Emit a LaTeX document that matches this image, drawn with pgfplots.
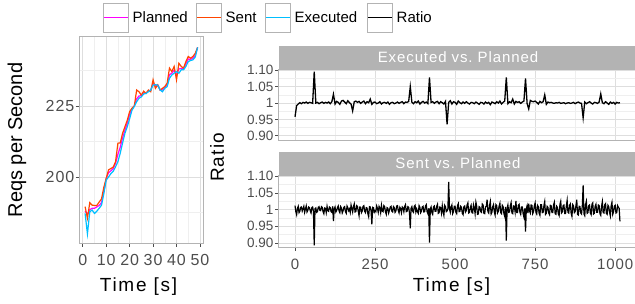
\documentclass[border=0pt]{standalone}
\usepackage{pgfplots}
\pgfplotsset{compat=1.18}
\usepackage{fontspec}
\setmainfont{Liberation Sans}
\newfontfamily\wide[LetterSpace=9]{Liberation Sans}
\newfontfamily\wideb[LetterSpace=6]{Liberation Sans}
\definecolor{cPlan}{HTML}{FF00FF}
\definecolor{cSent}{HTML}{FF4500}
\definecolor{cExec}{HTML}{00BFFF}
\definecolor{tickgray}{HTML}{4D4D4D}
\definecolor{bordergray}{HTML}{B3B3B3}
\definecolor{gridmaj}{HTML}{DEDEDE}
\definecolor{gridmin}{HTML}{EFEFEF}
\newcommand{\fs}[1]{\fontsize{#1bp}{#1bp}\selectfont}
\pgfplotsset{
  gg/.style={
    scale only axis, anchor=south west,
    axis line style={bordergray, line width=0.8bp},
    grid=both,
    major grid style={gridmaj, line width=0.7bp},
    minor grid style={gridmin, line width=0.5bp},
    tick pos=left, tick align=outside,
    major tick length=3.5bp, minor tick length=0pt,
    major tick style={tickgray, line width=0.7bp},
    ticklabel style={text=tickgray},
    /pgf/number format/assume math mode=true,
    clip=true,
  }
}
\begin{document}
\begin{tikzpicture}
\path[use as bounding box] (0bp,0bp) rectangle (635bp,304bp);
% ---------------- left panel
\begin{axis}[gg, at={(79bp,61bp)}, width=124bp, height=207bp,
  xmin=-1.6, xmax=51.3, ymin=176.8, ymax=249.6,
  xtick={0,10,20,30,40,50}, xticklabels={0,10,20,30,40,50},
  minor xtick={5,15,25,35,45},
  ytick={200,225}, yticklabels={200,225},
  minor ytick={187.5,212.5,237.5},
  ticklabel style={font=\wideb\fs{16}},
  xticklabel style={inner sep=0bp, yshift=-8bp},
  yticklabel style={inner sep=1bp},
]
\addplot[color=cPlan, line width=1.2bp] coordinates {
(1,188) (2,187) (3,188.5) (4,189) (5,189) (6,189.5) (7,190) (8,191) (9,195) (10,199.5)
(11,201.5) (12,202.2) (13,203) (14,204.8) (15,208) (16,210.5) (17,213.8) (18,216.5) (19,219) (20,222)
(21,224) (22,225) (23,227.5) (24,228.5) (25,228.6) (26,229.6) (27,229.5) (28,230.3) (29,230.5) (30,233)
(31,232) (32,232.4) (33,230.6) (34,230.6) (35,231.5) (36,232.4) (37,236) (38,236.5) (39,237.6) (40,236)
(41,238) (42,238.2) (43,238) (44,239.8) (45,241.5) (46,241.4) (47,241.8) (48,242.8) (49,245.6)};
\addplot[color=cSent, line width=1.2bp] coordinates {
(1,189.6) (2,185.5) (3,191) (4,190.1) (5,190) (6,190) (7,191.2) (8,192.3) (9,196.4) (10,199.5)
(11,202.5) (12,203) (13,203.5) (14,205.4) (15,211.9) (16,212) (17,215.4) (18,217.7) (19,220) (20,223)
(21,224.2) (22,225) (23,230.6) (24,230) (25,228.8) (26,230.2) (27,229.4) (28,230.6) (29,230) (30,234.2)
(31,231.2) (32,232.4) (33,230.6) (34,231.2) (35,231.8) (36,233) (37,238.3) (38,237.1) (39,238.9) (40,234.2)
(41,240) (42,238.9) (43,238.3) (44,240.6) (45,242.4) (46,241.8) (47,242.4) (48,243.5) (49,245.6)};
\addplot[color=cExec, line width=1.2bp] coordinates {
(1,187.2) (2,180) (3,187.8) (4,188.4) (5,187.2) (6,188) (7,189) (8,190.1) (9,194.2) (10,198.9)
(11,200) (12,201.2) (13,202) (14,203.6) (15,205.4) (16,208.4) (17,212) (18,215.4) (19,217.7) (20,220.5)
(21,223.5) (22,224.8) (23,226.5) (24,227.7) (25,228.2) (26,229.2) (27,229.4) (28,230) (29,230.6) (30,232.3)
(31,232.5) (32,232.3) (33,230.6) (34,230) (35,231.2) (36,231.8) (37,234.7) (38,235.9) (39,236.5) (40,237.1)
(41,236.5) (42,237.7) (43,237.7) (44,238.9) (45,240.6) (46,241) (47,241.2) (48,242.2) (49,245.6)};
\end{axis}
% ---------------- right top panel
\begin{axis}[gg, at={(278.7bp,164bp)}, width=356.3bp, height=71bp,
  xmin=-51, xmax=1062, ymin=0.887, ymax=1.104,
  xtick={0,250,500,750,1000}, xticklabels={},
  minor xtick={125,375,625,875},
  ytick={0.90,0.95,1,1.05,1.10}, yticklabels={0.90,0.95,1,1.05,1.10},
  minor ytick={0.925,0.975,1.025,1.075},
  xtick style={draw=none},
  ticklabel style={font=\fs{13.5}},
  yticklabel style={inner sep=1.5bp},
]
\addplot[black, line width=1.3bp] coordinates {
(0,0.958) (5,0.992) (10,0.997) (15,1.001) (20,0.998) (25,1.002) (30,1.000) (35,1.003) (40,0.999) (45,1.002)
(50,1.001) (55,0.999) (60,1.096) (65,1.000) (70,1.002) (75,0.998) (80,1.001) (85,1.003) (90,0.999) (95,1.002)
(100,1.000) (105,1.003) (110,0.998) (115,1.004) (120,1.027) (125,0.997) (130,1.005) (135,1.002) (140,0.996) (145,1.006)
(150,1.008) (155,1.003) (160,0.998) (165,1.007) (170,1.001) (175,0.997) (180,0.976) (185,1.004) (190,1.006) (195,1.002)
(200,1.005) (205,0.999) (210,1.003) (215,1.006) (220,0.998) (225,1.004) (230,1.001) (235,1.012) (240,0.996) (245,1.002)
(250,1.003) (255,0.998) (260,1.000) (265,1.004) (270,0.997) (275,1.001) (280,1.002) (285,0.999) (290,1.003) (295,0.996)
(300,1.001) (305,1.002) (310,0.998) (315,1.000) (320,1.003) (325,0.999) (330,1.002) (335,1.004) (340,0.998) (345,1.003)
(350,1.002) (355,1.005) (360,1.050) (365,1.003) (370,0.998) (375,1.004) (380,1.001) (385,1.006) (390,0.997) (395,1.002)
(400,1.005) (405,1.000) (410,1.003) (415,0.998) (420,1.078) (425,1.002) (430,1.004) (435,0.999) (440,1.003) (445,1.005)
(450,0.998) (455,1.004) (460,1.001) (465,0.997) (470,1.005) (475,0.935) (480,1.002) (485,1.007) (490,0.997) (495,1.004)
(500,1.002) (505,0.996) (510,1.006) (515,1.001) (520,0.998) (525,1.003) (530,0.999) (535,1.004) (540,1.000) (545,0.997)
(550,1.002) (555,1.001) (560,0.998) (565,1.003) (570,1.000) (575,0.996) (580,1.002) (585,1.001) (590,0.997) (595,1.003)
(600,0.999) (605,1.002) (610,0.995) (615,1.003) (620,1.001) (625,0.998) (630,1.004) (635,1.000) (640,1.006) (645,0.997)
(650,1.002) (655,1.006) (660,1.078) (665,0.998) (670,1.004) (675,1.001) (680,1.012) (685,0.997) (690,1.005) (695,1.002)
(700,1.004) (705,0.999) (710,1.003) (715,1.006) (720,1.075) (725,0.998) (730,0.982) (735,1.008) (740,1.005) (745,1.004)
(750,1.006) (755,1.002) (760,0.997) (765,1.005) (770,1.001) (775,1.004) (780,1.025) (785,0.996) (790,1.003) (795,1.001)
(800,1.002) (805,1.000) (810,0.999) (815,1.001) (820,1.000) (825,1.002) (830,0.999) (835,1.000) (840,1.001) (845,0.998)
(850,1.000) (855,1.001) (860,0.999) (865,1.000) (870,1.002) (875,0.998) (880,1.001) (885,1.003) (890,1.000) (895,0.999)
(900,0.955) (905,1.003) (910,0.998) (915,1.001) (920,1.004) (925,1.000) (930,0.997) (935,1.002) (940,1.001) (945,0.999)
(950,1.003) (955,1.028) (960,1.001) (965,0.998) (970,1.004) (975,1.000) (980,0.996) (985,1.003) (990,0.999) (995,1.002)
(1000,0.997) (1005,1.002) (1010,1.000) (1015,1.001)};
\end{axis}
% ---------------- right bottom panel
\begin{axis}[gg, at={(278.7bp,56.7bp)}, width=356.3bp, height=72.3bp,
  xmin=-51, xmax=1062, ymin=0.887, ymax=1.104,
  xtick={0,250,500,750,1000}, xticklabels={0,250,500,750,1000},
  minor xtick={125,375,625,875},
  ytick={0.90,0.95,1,1.05,1.10}, yticklabels={0.90,0.95,1,1.05,1.10},
  minor ytick={0.925,0.975,1.025,1.075},
  yticklabel style={font=\fs{13.5}, inner sep=1.5bp},
  xticklabel style={font=\wideb\fs{15}, inner sep=0bp, yshift=-8bp},
]
\addplot[black, line width=1.2bp] coordinates {
(0,1.012) (2.5,0.994) (5,0.985) (7.5,1.004) (10,1.010) (12.5,0.991) (15,0.995) (17.5,1.007) (20,1.008) (22.5,0.996) (25,1.003) (27.5,1.010) (30,0.992) (32.5,1.002) (35,1.011) (37.5,0.993) (40,0.998) (42.5,1.008) (45,1.006) (47.5,0.997)
(50,0.990) (52.5,1.006) (55,1.008) (57.5,0.995) (60,0.893) (62.5,1.003) (65,1.005) (67.5,0.992) (70,0.994) (72.5,1.007) (75,1.009) (77.5,0.998) (80,0.997) (82.5,1.009) (85,1.007) (87.5,0.994) (90,0.988) (92.5,1.005) (95,1.004) (97.5,0.991)
(100,1.010) (102.5,0.997) (105,0.995) (107.5,1.008) (110,1.006) (112.5,0.994) (115,0.992) (117.5,1.010) (120,0.966) (122.5,1.002) (125,1.008) (127.5,0.993) (130,0.997) (132.5,1.006) (135,1.011) (137.5,0.996) (140,0.991) (142.5,1.009) (145,1.005) (147.5,0.990)
(150,0.996) (152.5,1.007) (155,1.009) (157.5,0.994) (160,0.989) (162.5,1.011) (165,1.006) (167.5,0.997) (170,1.002) (172.5,0.992) (175,1.014) (177.5,1.004) (180,0.993) (182.5,1.009) (185,1.017) (187.5,0.993) (190,0.994) (192.5,1.012) (195,1.010) (197.5,0.995)
(200,0.982) (202.5,1.008) (205,1.007) (207.5,0.991) (210,0.996) (212.5,1.010) (215,1.012) (217.5,0.995) (220,0.991) (222.5,1.006) (225,1.005) (227.5,0.988) (230,0.979) (232.5,1.009) (235,1.008) (237.5,0.997) (240,0.956) (242.5,1.007) (245,1.006) (247.5,0.992)
(250,0.997) (252.5,0.994) (255,1.011) (257.5,1.004) (260,0.992) (262.5,1.010) (265,1.005) (267.5,0.991) (270,1.013) (272.5,0.996) (275,0.994) (277.5,1.012) (280,1.009) (282.5,0.993) (285,0.986) (287.5,1.006) (290,1.004) (292.5,0.990) (295,0.998) (297.5,1.008)
(300,1.010) (302.5,0.995) (305,0.993) (307.5,1.009) (310,1.006) (312.5,0.992) (315,0.996) (317.5,1.011) (320,1.012) (322.5,0.997) (325,0.990) (327.5,1.007) (330,1.003) (332.5,0.991) (335,1.008) (337.5,1.005) (340,0.994) (342.5,1.010) (345,1.015) (347.5,0.994)
(350,0.995) (352.5,1.009) (355,1.007) (357.5,0.990) (360,0.944) (362.5,1.004) (365,1.009) (367.5,0.995) (370,0.992) (372.5,1.010) (375,1.013) (377.5,0.993) (380,1.002) (382.5,0.994) (385,0.989) (387.5,1.012) (390,1.007) (392.5,0.991) (395,0.996) (397.5,1.008)
(400,1.010) (402.5,0.993) (405,0.994) (407.5,1.011) (410,1.015) (412.5,0.994) (415,0.988) (417.5,1.004) (420,0.901) (422.5,1.002) (425,1.008) (427.5,0.991) (430,0.986) (432.5,1.008) (435,1.011) (437.5,0.995) (440,0.995) (442.5,1.010) (445,1.016) (447.5,0.989)
(450,0.991) (452.5,1.008) (455,1.006) (457.5,0.990) (460,1.012) (462.5,0.993) (465,0.983) (467.5,1.013) (470,1.009) (472.5,0.994) (475,0.996) (477.5,1.003) (480,1.083) (482.5,1.002) (485,0.992) (487.5,1.008) (490,1.014) (492.5,0.988) (495,0.994) (497.5,1.010)
(500,1.010) (502.5,0.992) (505,0.988) (507.5,1.012) (510,1.018) (512.5,0.994) (515,0.995) (517.5,1.010) (520,1.007) (522.5,0.989) (525,0.985) (527.5,1.009) (530,1.011) (532.5,0.993) (535,0.997) (537.5,1.014) (540,1.020) (542.5,0.990) (545,0.992) (547.5,1.006)
(550,1.013) (552.5,0.991) (555,0.990) (557.5,1.015) (560,1.006) (562.5,0.988) (565,1.022) (567.5,1.010) (570,0.986) (572.5,0.987) (575,1.009) (577.5,1.007) (580,0.994) (582.5,0.992) (585,1.017) (587.5,1.014) (590,0.989) (592.5,0.988) (595,1.008) (597.5,1.010)
(600,1.030) (602.5,0.994) (605,0.990) (607.5,1.012) (610,1.024) (612.5,0.987) (615,0.992) (617.5,1.009) (620,1.015) (622.5,0.993) (625,0.984) (627.5,1.015) (630,1.012) (632.5,0.990) (635,0.995) (637.5,1.011) (640,1.019) (642.5,0.991) (645,0.988) (647.5,1.013)
(650,1.009) (652.5,0.988) (655,0.980) (657.5,1.008) (660,0.907) (662.5,1.004) (665,1.014) (667.5,0.992) (670,0.993) (672.5,1.012) (675,1.021) (677.5,0.990) (680,0.988) (682.5,1.011) (685,1.010) (687.5,0.993) (690,1.026) (692.5,0.991) (695,0.991) (697.5,1.013)
(700,1.016) (702.5,0.992) (705,0.986) (707.5,1.008) (710,1.008) (712.5,0.988) (715,0.978) (717.5,1.004) (720,0.934) (722.5,1.003) (725,1.012) (727.5,0.990) (730,1.018) (732.5,0.996) (735,0.990) (737.5,1.014) (740,1.013) (742.5,0.988) (745,0.994) (747.5,1.011)
(750,1.020) (752.5,0.992) (755,0.987) (757.5,1.013) (760,1.009) (762.5,0.989) (765,0.983) (767.5,1.015) (770,1.015) (772.5,0.991) (775,0.992) (777.5,1.012) (780,1.024) (782.5,0.986) (785,0.989) (787.5,1.010) (790,1.007) (792.5,0.990) (795,0.985) (797.5,1.013)
(800,1.012) (802.5,0.991) (805,0.991) (807.5,1.014) (810,1.022) (812.5,0.988) (815,0.986) (817.5,1.010) (820,1.006) (822.5,0.987) (825,0.982) (827.5,1.016) (830,1.025) (832.5,0.990) (835,0.993) (837.5,1.012) (840,1.014) (842.5,0.988) (845,0.988) (847.5,1.011)
(850,1.028) (852.5,0.992) (855,0.990) (857.5,1.013) (860,1.017) (862.5,0.989) (865,0.980) (867.5,1.015) (870,1.011) (872.5,0.991) (875,0.994) (877.5,1.012) (880,1.030) (882.5,0.986) (885,0.984) (887.5,1.010) (890,1.009) (892.5,0.990) (895,0.987) (897.5,1.013)
(900,1.073) (902.5,0.987) (905,0.982) (907.5,1.015) (910,1.025) (912.5,0.989) (915,0.991) (917.5,1.012) (920,1.014) (922.5,0.990) (925,0.985) (927.5,1.016) (930,1.020) (932.5,0.987) (935,0.989) (937.5,1.010) (940,1.016) (942.5,0.992) (945,0.992) (947.5,1.014)
(950,1.012) (952.5,0.988) (955,0.983) (957.5,1.010) (960,1.024) (962.5,0.991) (965,0.990) (967.5,1.015) (970,1.018) (972.5,0.989) (975,0.986) (977.5,1.013) (980,1.009) (982.5,0.992) (985,0.981) (987.5,1.012) (990,1.022) (992.5,0.986) (995,0.994) (997.5,1.010)
(1000,1.013) (1002.5,0.990) (1005,0.991) (1007.5,1.012) (1010,1.007) (1012.5,1.004) (1015,0.965)};
\end{axis}
% ---------------- strips
\fill[bordergray] (278.7bp,235bp) rectangle (635bp,258bp);
\node[text=white, font=\wideb\fs{15}] at (458bp,246.5bp) {Executed vs.\ Planned};
\fill[bordergray] (278.7bp,129bp) rectangle (635bp,152.3bp);
\node[text=white, font=\wideb\fs{15}] at (458bp,140.7bp) {Sent vs.\ Planned};
% ---------------- axis titles
\node[rotate=90, font=\fs{20}] at (17bp,164bp) {Reqs per Second};
\node[font=\wide\fs{19}] at (138.5bp,17bp) {Time [s]};
\node[font=\wide\fs{19}] at (451.5bp,17bp) {Time [s]};
\node[rotate=90, font=\wideb\fs{19}] at (217bp,146.5bp) {Ratio};
% ---------------- legend (key lines as thin filled bars)
\fill[cPlan] (103bp,285.7bp) rectangle (128.5bp,287.3bp);
\draw[bordergray, line width=0.8bp] (103bp,272bp) rectangle (128.5bp,301bp);
\node[anchor=west, font=\fs{15}, inner sep=0pt] at (132.5bp,286.5bp) {Planned};
\fill[cSent] (196bp,285.7bp) rectangle (221.5bp,287.3bp);
\draw[bordergray, line width=0.8bp] (196bp,272bp) rectangle (221.5bp,301bp);
\node[anchor=west, font=\fs{15}, inner sep=0pt] at (225.5bp,286.5bp) {Sent};
\fill[cExec] (265bp,285.7bp) rectangle (290.5bp,287.3bp);
\draw[bordergray, line width=0.8bp] (265bp,272bp) rectangle (290.5bp,301bp);
\node[anchor=west, font=\fs{15}, inner sep=0pt] at (294.5bp,286.5bp) {Executed};
\fill[black] (367bp,285.7bp) rectangle (392.5bp,287.3bp);
\draw[bordergray, line width=0.8bp] (367bp,272bp) rectangle (392.5bp,301bp);
\node[anchor=west, font=\fs{15}, inner sep=0pt] at (396.5bp,286.5bp) {Ratio};
\end{tikzpicture}
\end{document}
